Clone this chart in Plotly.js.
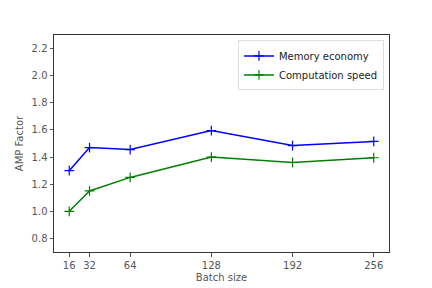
<!DOCTYPE html>
<html><head><meta charset="utf-8">
<script src="https://cdn.plot.ly/plotly-3.0.1.min.js"></script>
<style>html,body{margin:0;padding:0;background:#fff}</style>
</head><body><div id="chart" style="width:432px;height:288px"></div>
<script>
const batchSizes = [16, 32, 64, 128, 192, 256];
const memoryEconomy = [1.30, 1.47, 1.455, 1.595, 1.485, 1.515];
const computationSpeed = [1.00, 1.15, 1.25, 1.40, 1.36, 1.395];
const yTicks = [0.8, 1.0, 1.2, 1.4, 1.6, 1.8, 2.0, 2.2];

function series(name, y, color) {
  return {
    x: batchSizes, y: y, name: name, type: 'scatter', mode: 'lines+markers',
    line: {color: color, width: 1.5},
    marker: {symbol: 'cross-thin-open', size: 7, color: color, line: {color: color, width: 1.2}}
  };
}
const font = {family: 'DejaVu Sans, sans-serif', size: 10, color: '#555'};
const layout = {
  width: 432, height: 288,
  margin: {l: 54, r: 43, t: 35, b: 36},
  paper_bgcolor: '#fff', plot_bgcolor: '#fff',
  font: font,
  showlegend: true,
  legend: {x: 0.985, y: 0.975, xanchor: 'right', yanchor: 'top',
    bordercolor: '#ddd', borderwidth: 1, bgcolor: 'rgba(255,255,255,0.8)',
    font: {family: 'DejaVu Sans, sans-serif', size: 10, color: '#222'},
    tracegroupgap: 0, itemwidth: 30},
  xaxis: {range: [4, 268], tickvals: batchSizes, ticktext: batchSizes.map(String),
    showgrid: false, zeroline: false, showline: true, mirror: true, linecolor: '#333', linewidth: 1,
    ticks: 'outside', ticklen: 3.5, tickcolor: '#555',
    title: {text: 'Batch size', font: font, standoff: 4}},
  yaxis: {range: [0.7, 2.3], tickvals: yTicks, ticktext: yTicks.map(v => v.toFixed(1)),
    showgrid: false, zeroline: false, showline: true, mirror: true, linecolor: '#333', linewidth: 1,
    ticks: 'outside', ticklen: 3.5, tickcolor: '#555',
    title: {text: 'AMP Factor', font: font, standoff: 6}}
};
Plotly.newPlot('chart', [series('Memory economy', memoryEconomy, '#0000ff'), series('Computation speed', computationSpeed, '#008000')], layout, {displayModeBar: false, staticPlot: true});
</script></body></html>
